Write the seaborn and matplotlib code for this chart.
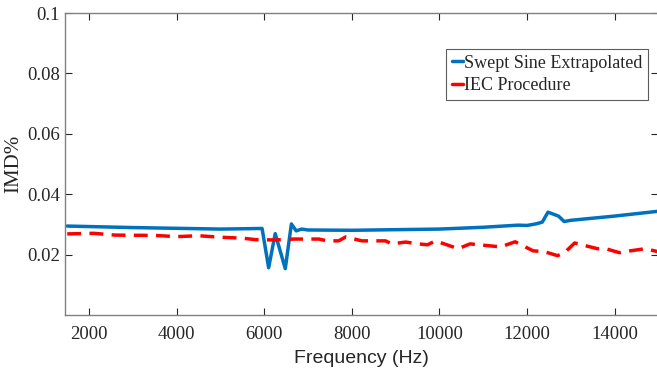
import matplotlib
matplotlib.use("Agg")
import matplotlib.pyplot as plt
import numpy as np
import pandas as pd
import seaborn as sns

# Swept sine extrapolated IMD (%)
swept_freq = [1500, 3000, 5000, 5950, 6100, 6250, 6480, 6620, 6730, 6850, 7000, 8000,
              9000, 10000, 11000, 11800, 12000, 12200, 12350, 12480, 12720, 12850,
              13000, 14000, 15000]
swept_imd = [0.0295, 0.0290, 0.0285, 0.0287, 0.0157, 0.0270, 0.0154, 0.0302, 0.0279,
             0.0285, 0.0282, 0.0281, 0.0283, 0.0285, 0.0291, 0.0298, 0.0297, 0.0302,
             0.0308, 0.0341, 0.0328, 0.0310, 0.0314, 0.0328, 0.0344]

# IEC procedure IMD (%)
iec_freq = [1500, 2100, 2600, 3500, 4000, 4500, 5000, 5500, 5800, 6230, 6680, 7250,
            7430, 7700, 7860, 8230, 8770, 8910, 9230, 9520, 9730, 9910, 10430, 10700,
            11400, 11730, 12140, 12400, 12700, 12860, 13090, 13610, 13800, 14110,
            14360, 14700, 15000]
iec_imd = [0.0269, 0.0271, 0.0265, 0.0264, 0.0260, 0.0263, 0.0258, 0.0255, 0.0250,
           0.0249, 0.0252, 0.0252, 0.0246, 0.0246, 0.0259, 0.0246, 0.0246, 0.0236,
           0.0242, 0.0236, 0.0233, 0.0246, 0.0220, 0.0236, 0.0226, 0.0243, 0.0213,
           0.0210, 0.0197, 0.0207, 0.0239, 0.0220, 0.0220, 0.0207, 0.0213, 0.0220,
           0.0210]

df_swept = pd.DataFrame({'freq': swept_freq, 'imd': swept_imd})
df_iec = pd.DataFrame({'freq': iec_freq, 'imd': iec_imd})

sns.set_style('white')
plt.rcParams['font.family'] = ['Liberation Serif', 'DejaVu Serif']

fig = plt.figure(figsize=(6.57, 3.73), dpi=100)
ax = fig.add_axes([0.099, 0.155, 0.903, 0.81])

sns.lineplot(data=df_swept, x='freq', y='imd', color='#0072BD', linewidth=2.5,
             label='Swept Sine Extrapolated', ax=ax, sort=False)
sns.lineplot(data=df_iec, x='freq', y='imd', color='#FF0000', linewidth=2.5,
             linestyle=(0, (4, 2.4)), label='IEC Procedure', ax=ax, sort=False)

ax.set_xlim(1450, 15000)
ax.set_ylim(0, 0.1)
ax.set_xticks(np.arange(2000, 14001, 2000))
ax.set_yticks([0.02, 0.04, 0.06, 0.08, 0.1])
ax.set_yticklabels(['0.02', '0.04', '0.06', '0.08', '0.1'])
ax.tick_params(direction='in', length=5, width=0.8, labelsize=13.5, color='#262626',
               top=True, right=True, bottom=True, left=True)
ax.tick_params(axis='x', pad=8)
for s in ax.spines.values():
    s.set_color('#808080')
    s.set_linewidth(1)

ax.set_xlabel('Frequency (Hz)', fontsize=14, family=['Liberation Sans', 'DejaVu Sans'],
              labelpad=5)
ax.set_ylabel('IMD%', fontsize=15, labelpad=3)

leg = ax.legend(loc='upper right', bbox_to_anchor=(0.983, 0.88), fontsize=13,
                handlelength=0.6, handletextpad=0.1, borderpad=0.3,
                labelspacing=0.3, frameon=True, fancybox=False, borderaxespad=0)
leg.get_frame().set_edgecolor('#333333')
leg.get_frame().set_linewidth(0.8)
for h in leg.get_lines():
    h.set_linestyle('-')

fig.savefig('out.png', dpi=100)
